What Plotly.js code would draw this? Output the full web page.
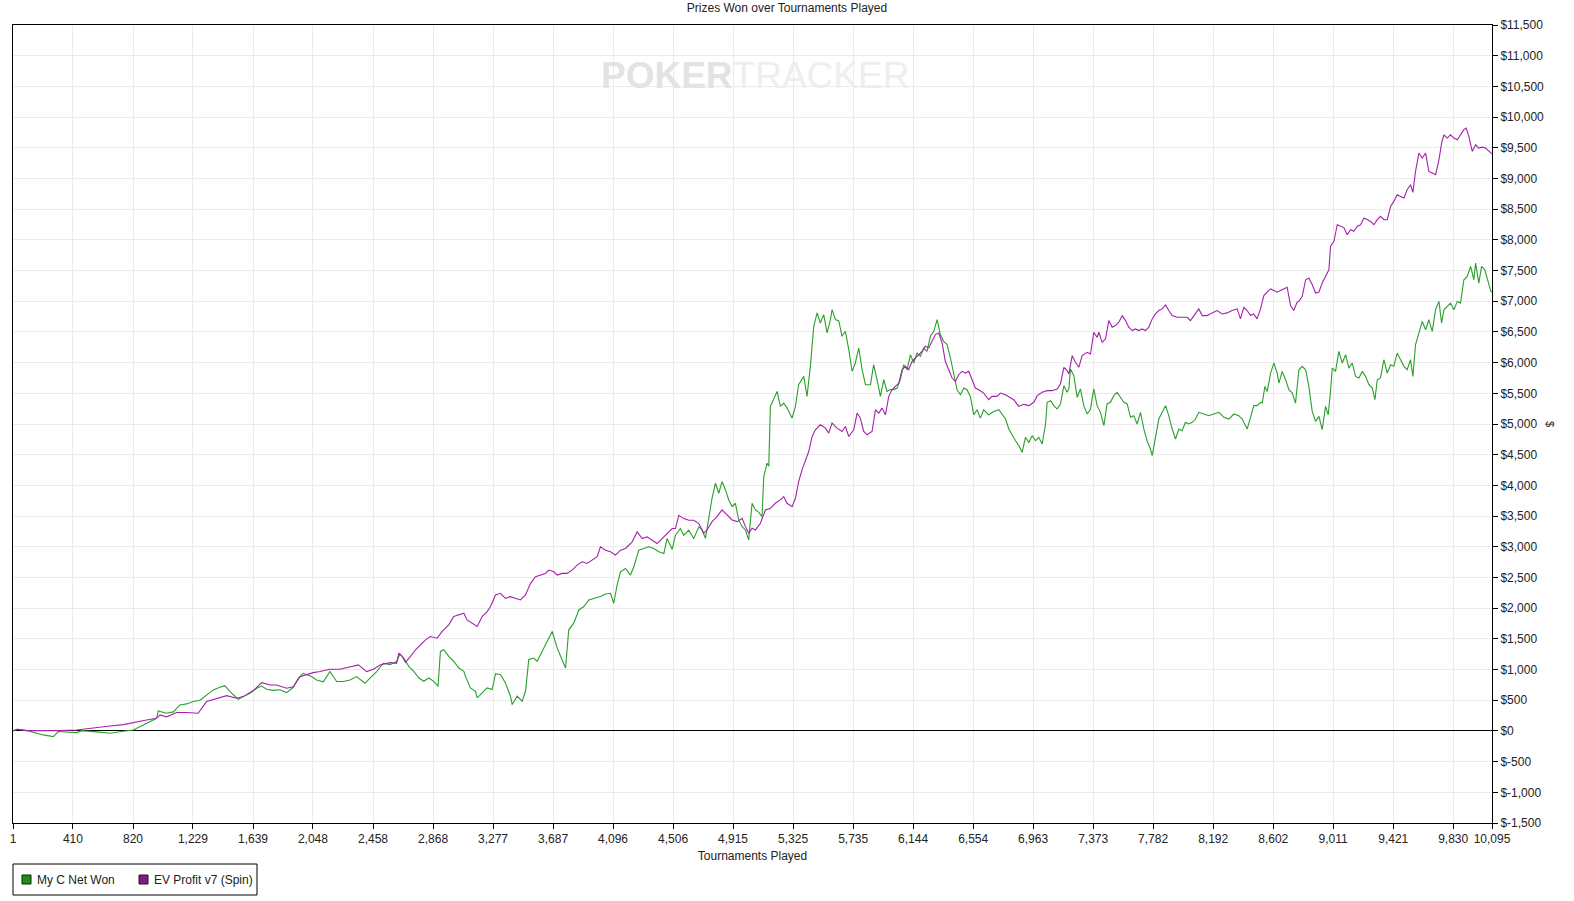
<!DOCTYPE html>
<html>
<head>
<meta charset="utf-8">
<script src="https://cdn.plot.ly/plotly-3.0.1.min.js"></script>
<style>
  html, body { margin: 0; padding: 0; background: #ffffff; }
  #chart { width: 1574px; height: 901px; }
</style>
</head>
<body>
<div id="chart"></div>
<script>
// ---- Data ----
const chartTitle = "Prizes Won over Tournaments Played";
const xTitle = "Tournaments Played";
const yTitle = "$";
const seriesNames = ["My C Net Won", "EV Profit v7 (Spin)"];

// [tournaments played, cumulative $]
const netWon = [
  [1,0],[30,27],[100,5],[207,-65],[276,-92],[310,-10],[435,-27],[469,5],[572,-15],[663,-38],[754,-5],[822,16],
  [890,98],[935,152],[981,206],[992,326],[1049,288],[1095,310],[1140,424],[1186,440],[1231,478],[1277,500],
  [1322,586],[1368,668],[1413,711],[1447,738],[1482,640],[1538,516],[1573,559],[1618,614],[1664,695],[1698,730],
  [1732,679],[1777,660],[1823,670],[1868,624],[1914,711],[1948,858],[1982,939],[2039,885],[2073,831],[2119,800],
  [2164,967],[2210,804],[2255,804],[2301,831],[2346,885],[2403,776],[2448,885],[2483,967],[2528,1102],[2574,1080],
  [2619,1130],[2642,1254],[2668,1187],[2702,1052],[2736,970],[2771,862],[2805,808],[2839,862],[2873,808],[2902,727],
  [2918,1295],[2941,1322],[2975,1214],[3009,1133],[3044,1025],[3078,970],[3089,889],[3123,700],[3157,646],[3169,538],
  [3203,619],[3237,700],[3271,673],[3294,933],[3328,916],[3362,781],[3396,565],[3408,430],[3442,565],[3476,484],
  [3499,646],[3521,1160],[3555,1187],[3578,1133],[3612,1295],[3646,1457],[3681,1620],[3715,1349],[3749,1160],[3772,1025],
  [3794,1647],[3828,1755],[3863,1971],[3897,2026],[3931,2134],[3976,2161],[4010,2188],[4045,2231],[4079,2242],[4101,2080],
  [4124,2377],[4147,2593],[4181,2647],[4215,2539],[4238,2674],[4272,2945],[4306,2972],[4340,2999],[4374,2972],[4409,2918],
  [4443,2891],[4465,3134],[4500,2956],[4522,3188],[4556,3297],[4579,3188],[4613,3270],[4647,3134],[4682,3324],
  [4704,3274],[4727,3138],[4749,3491],[4772,3790],[4795,4035],[4818,3872],[4840,4062],[4863,3930],[4886,3763],[4909,3654],
  [4931,3709],[4954,3437],[4977,3328],[5000,3274],[5022,3110],[5045,3709],[5068,3600],[5091,3560],[5113,3491],[5125,4144],
  [5147,4362],[5159,4310],[5170,5286],[5193,5395],[5216,5531],[5238,5286],[5261,5340],[5284,5259],[5318,5096],[5341,5286],
  [5363,5640],[5398,5776],[5420,5450],[5443,5939],[5466,6592],[5489,6810],[5511,6646],[5534,6782],[5557,6483],[5580,6701],
  [5591,6864],[5614,6701],[5637,6680],[5659,6429],[5682,6510],[5705,6211],[5728,5858],[5750,5994],[5773,6238],[5796,5885],
  [5819,5640],[5853,5640],[5875,5966],[5898,5722],[5921,5450],[5944,5722],[5966,5531],[5989,5560],[6012,5560],[6035,5586],
  [6057,5722],[6080,5966],[6103,5885],[6126,6130],[6148,5994],[6171,6157],[6194,6102],[6217,6238],[6239,6184],[6262,6429],
  [6285,6510],[6308,6701],[6330,6456],[6353,6347],[6376,6293],[6399,6075],[6421,5830],[6444,5558],[6467,5477],[6490,5586],
  [6512,5558],[6535,5450],[6558,5150],[6581,5232],[6603,5096],[6626,5232],[6660,5150],[6694,5205],[6729,5232],
  [6752,5163],[6775,5081],[6797,4918],[6820,4810],[6843,4728],[6866,4647],[6888,4538],[6911,4783],[6934,4701],[6957,4810],
  [6979,4728],[7002,4783],[7025,4674],[7048,5000],[7059,5353],[7082,5380],[7104,5299],[7127,5245],[7150,5326],[7173,5625],
  [7195,5516],[7207,5571],[7218,5897],[7241,5788],[7264,5435],[7286,5571],[7309,5299],[7332,5163],[7355,5245],[7377,5571],
  [7400,5299],[7423,5190],[7446,4973],[7468,5326],[7491,5353],[7514,5462],[7537,5516],[7559,5435],[7582,5353],[7605,5326],
  [7628,5109],[7650,5136],[7673,5000],[7696,5190],[7719,4918],[7741,4728],[7764,4592],[7776,4484],[7798,4810],[7821,5081],
  [7844,5190],[7867,5299],[7889,5136],[7912,4918],[7935,4755],[7958,4918],[7980,4890],[8003,5027],[8026,5000],[8049,5027],
  [8071,5081],[8094,5190],[8128,5163],[8162,5136],[8196,5163],[8231,5190],[8265,5109],[8299,5081],[8333,5163],[8367,5136],
  [8390,5081],[8413,4973],[8424,4918],[8447,5109],[8469,5299],[8492,5299],[8515,5353],
  [8527,5341],[8545,5613],[8561,5531],[8584,5830],[8606,5993],[8629,5830],[8641,5667],[8663,5857],[8686,5721],[8709,5558],
  [8732,5504],[8754,5341],[8777,5884],[8800,5939],[8823,5884],[8845,5613],[8868,5205],[8891,5042],[8914,5124],[8936,4907],
  [8959,5287],[8977,5151],[8993,5531],[9005,5911],[9027,5857],[9050,6183],[9073,5993],[9096,6129],[9118,5911],[9141,5993],
  [9164,5776],[9187,5748],[9209,5857],[9232,5776],[9255,5640],[9278,5585],[9296,5395],[9312,5721],[9334,5750],[9357,6047],
  [9380,5830],[9403,5966],[9425,5940],[9448,6156],[9471,6047],[9494,5939],[9516,5884],[9539,6047],[9555,5776],[9573,6291],
  [9596,6481],[9619,6671],[9642,6536],[9664,6699],[9687,6509],[9710,6861],[9733,6997],[9751,6644],[9767,6861],[9789,6916],
  [9812,6970],[9835,6861],[9858,6997],[9880,6970],[9903,7350],[9926,7404],[9949,7567],[9971,7350],[9983,7621],[10005,7296],
  [10024,7567],[10046,7513],[10069,7296],[10087,7160],[10095,7150]
];

const evProfit = [
  [1,0],[30,27],[94,5],[207,0],[321,5],[435,16],[503,38],[572,60],[663,81],[754,103],[845,152],[913,179],[981,206],
  [1004,261],[1049,230],[1118,299],[1186,299],[1265,288],[1322,478],[1390,532],[1459,575],[1527,532],[1573,559],
  [1641,657],[1698,787],[1755,749],[1800,749],[1868,695],[1914,720],[1959,885],[2005,923],[2050,950],[2096,967],
  [2164,1005],[2232,1005],[2301,1037],[2358,1075],[2415,967],[2460,1005],[2506,1075],[2574,1113],[2619,1102],
  [2634,1268],[2657,1214],[2680,1117],[2714,1214],[2748,1322],[2782,1403],[2816,1484],[2850,1538],[2896,1511],[2930,1620],
  [2975,1728],[3009,1863],[3044,1890],[3078,1917],[3100,1809],[3135,1755],[3169,1701],[3203,1863],[3237,1944],[3260,2026],
  [3294,2215],[3328,2242],[3362,2161],[3396,2188],[3430,2161],[3464,2134],[3499,2215],[3533,2404],[3567,2512],[3601,2539],
  [3635,2566],[3658,2620],[3692,2593],[3715,2539],[3749,2566],[3783,2566],[3817,2620],[3851,2701],[3885,2755],[3919,2728],
  [3954,2783],[3988,2837],[4010,2999],[4045,2945],[4079,2918],[4113,2864],[4147,2945],[4181,2972],[4227,3080],[4261,3243],
  [4295,3134],[4329,3161],[4363,3107],[4397,3053],[4431,3134],[4465,3216],[4500,3297],[4522,3297],[4545,3513],[4579,3459],
  [4613,3432],[4647,3432],[4682,3378],
  [4715,3219],[4738,3274],[4772,3410],[4806,3491],[4840,3600],[4874,3518],[4909,3437],[4943,3410],[4977,3464],[5000,3328],
  [5022,3219],[5045,3301],[5068,3274],[5102,3383],[5136,3600],[5170,3627],[5204,3709],[5238,3763],[5261,3818],[5284,3709],
  [5318,3654],[5341,3790],[5363,4062],[5386,4253],[5409,4416],[5432,4552],[5455,4797],[5477,4906],[5511,4987],[5546,4933],
  [5568,4851],[5591,5014],[5625,4933],[5659,4878],[5682,4960],[5705,4797],[5739,4906],[5762,5178],[5784,5096],[5807,4878],
  [5830,4824],[5864,4878],[5887,5232],[5910,5178],[5932,5259],[5955,5150],[5978,5450],[6000,5558],[6023,5613],[6046,5667],
  [6069,5885],[6091,5939],[6114,5885],[6137,6021],[6160,6075],[6183,6130],[6205,6184],[6228,6266],[6251,6240],[6273,6347],
  [6296,6456],[6319,6483],[6342,6320],[6364,6021],[6387,5885],[6410,5749],[6433,5694],[6455,5803],[6478,5858],[6501,5830],
  [6524,5858],[6546,5722],[6569,5586],[6592,5558],[6626,5504],[6660,5395],[6683,5450],[6717,5450],[6740,5504],[6774,5477],
  [6808,5422],[6831,5395],[6865,5286],
  [6900,5320],[6934,5299],[6968,5353],[6991,5462],[7025,5516],[7059,5543],[7093,5543],[7127,5571],[7150,5652],[7173,5924],
  [7195,5870],[7207,5815],[7230,6114],[7252,6005],[7275,5924],[7298,6114],[7332,6168],[7355,6140],[7377,6494],[7400,6412],
  [7412,6494],[7434,6331],[7457,6385],[7480,6685],[7503,6576],[7525,6603],[7548,6658],[7571,6766],[7594,6685],[7616,6576],
  [7639,6522],[7662,6549],[7685,6522],[7707,6549],[7730,6522],[7753,6576],[7776,6712],[7798,6793],[7821,6848],[7844,6875],
  [7867,6940],[7889,6848],[7912,6766],[7946,6739],[7980,6739],[8014,6739],[8037,6685],[8060,6766],[8094,6875],[8117,6766],
  [8151,6766],[8185,6810],[8219,6848],[8253,6793],[8287,6810],[8321,6848],[8356,6875],[8378,6712],[8401,6902],[8424,6848],
  [8447,6766],[8469,6793],[8492,6712],[8515,6875],[8538,7092],[8560,7147],[8583,7201],[8606,7174],[8629,7147],[8651,7174],
  [8674,7201],[8697,7228],[8720,6929],[8742,6848],[8765,6984],
  [8777,6997],[8800,7079],[8823,7350],[8845,7377],[8868,7269],[8891,7133],[8914,7150],[8936,7296],[8959,7404],[8982,7513],
  [8993,7893],[9016,7975],[9039,8246],[9061,8219],[9084,8200],[9107,8083],[9130,8165],[9152,8140],[9175,8219],[9198,8246],
  [9221,8355],[9243,8330],[9266,8300],[9289,8246],[9312,8328],[9334,8382],[9357,8328],[9380,8328],[9403,8545],[9425,8626],
  [9448,8735],[9471,8708],[9494,8680],[9516,8816],[9539,8898],[9555,8773],[9573,9115],[9596,9414],[9619,9332],[9642,9414],
  [9664,9115],[9687,9088],[9710,9061],[9733,9305],[9751,9576],[9767,9712],[9789,9658],[9812,9712],[9835,9658],[9858,9631],
  [9880,9712],[9903,9794],[9919,9821],[9937,9685],[9960,9441],[9983,9549],[10005,9495],[10028,9510],[10051,9495],[10073,9441],
  [10095,9400]
];

const xTickValues = [1,410,820,1229,1639,2048,2458,2868,3277,3687,4096,4506,4915,5325,5735,6144,6554,6963,7373,7782,8192,8602,9011,9421,9830,10095];
const yTickValues = [-1500,-1000,-500,0,500,1000,1500,2000,2500,3000,3500,4000,4500,5000,5500,6000,6500,7000,7500,8000,8500,9000,9500,10000,10500,11000,11500];
const seriesColors = ["#2a9f2a", "#a322ab"];
const legendColors = ["#1a8f1a", "#8c138f"];

// ---- Build ----
const W = 1574, H = 901;
const M = {l: 13, r: 82, t: 25, b: 78};
const plotW = W - M.l - M.r, plotH = H - M.t - M.b;
// pixel -> paper helpers for decorations outside the plot area
const px = x => (x - M.l) / plotW;
const py = y => (H - M.b - y) / plotH;

const fmt = n => n.toLocaleString("en-US");
const xTickText = xTickValues.map(fmt);
const yTickText = yTickValues.map(v => "$" + fmt(v));

const font = "Liberation Sans, Arial, sans-serif";
const textColor = "#222222";

const traces = [
  {
    x: netWon.map(p => p[0]), y: netWon.map(p => p[1]),
    type: "scatter", mode: "lines", name: seriesNames[0],
    line: {color: seriesColors[0], width: 1.1}, hoverinfo: "skip"
  },
  {
    x: evProfit.map(p => p[0]), y: evProfit.map(p => p[1]),
    type: "scatter", mode: "lines", name: seriesNames[1],
    line: {color: seriesColors[1], width: 1.1}, hoverinfo: "skip"
  }
];

// Legend drawn as a boxed key below the plot (like the reference)
const legendBox = {x0: 13, x1: 257, y0: 864, y1: 895};
const legendItems = [
  {sq: 22, text: 35},
  {sq: 139, text: 152}
];
const sqSize = 9, legendMid = 879.5;

const shapes = [
  {type: "rect", xref: "paper", yref: "paper",
   x0: px(legendBox.x0), x1: px(legendBox.x1), y0: py(legendBox.y1), y1: py(legendBox.y0),
   line: {color: "#000000", width: 1}, fillcolor: "#ffffff", layer: "above"}
];
const annotations = [];
legendItems.forEach((it, i) => {
  shapes.push({
    type: "rect", xref: "paper", yref: "paper",
    x0: px(it.sq), x1: px(it.sq + sqSize),
    y0: py(legendMid + sqSize / 2), y1: py(legendMid - sqSize / 2),
    line: {color: "#102010", width: 1}, fillcolor: legendColors[i], layer: "above"
  });
  annotations.push({
    text: seriesNames[i], xref: "paper", yref: "paper",
    x: px(it.text), y: py(legendMid), xanchor: "left", yanchor: "middle",
    showarrow: false, font: {family: font, size: 12, color: textColor}
  });
});

// Watermark and right-hand axis title
annotations.push({
  text: "<b><span style='color:#e3e3e3'>POKER</span></b><span style='color:#eeeeee'>TRACKER</span>",
  xref: "paper", yref: "paper", x: px(755), y: py(75), xanchor: "center", yanchor: "middle",
  showarrow: false,
  font: {family: font, size: 37, color: "#e8e8e8"}
});
annotations.push({
  text: yTitle, xref: "paper", yref: "paper", x: px(1550), y: 0.5,
  xanchor: "center", yanchor: "middle", showarrow: false, textangle: 90,
  font: {family: font, size: 11, color: textColor}
});

const layout = {
  width: W, height: H,
  margin: {l: M.l, r: M.r, t: M.t, b: M.b, autoexpand: false},
  paper_bgcolor: "#ffffff", plot_bgcolor: "#ffffff",
  font: {family: font, size: 12, color: textColor},
  title: {
    text: chartTitle, font: {family: font, size: 12, color: textColor},
    x: 0.5, xref: "container", y: 1 - 8 / H, yref: "container", yanchor: "middle"
  },
  showlegend: false,
  xaxis: {
    range: [1, 10095], autorange: false,
    tickmode: "array", tickvals: xTickValues, ticktext: xTickText,
    ticks: "outside", ticklen: 5, tickcolor: "#000000",
    showline: true, linecolor: "#000000", linewidth: 1, mirror: true,
    showgrid: true, gridcolor: "#ebebeb", gridwidth: 1, zeroline: false,
    tickfont: {family: font, size: 12, color: textColor},
    title: {text: xTitle, font: {family: font, size: 12, color: textColor}, standoff: 6},
    automargin: false
  },
  yaxis: {
    range: [-1500, 11500], autorange: false, side: "right",
    tickmode: "array", tickvals: yTickValues, ticktext: yTickText,
    ticks: "outside", ticklen: 5, tickcolor: "#000000",
    showline: true, linecolor: "#000000", linewidth: 1, mirror: true,
    showgrid: true, gridcolor: "#ebebeb", gridwidth: 1,
    zeroline: true, zerolinecolor: "#000000", zerolinewidth: 1,
    tickfont: {family: font, size: 12, color: textColor},
    automargin: false
  },
  shapes: shapes,
  annotations: annotations
};

Plotly.newPlot("chart", traces, layout, {staticPlot: true, displayModeBar: false});
</script>
</body>
</html>
